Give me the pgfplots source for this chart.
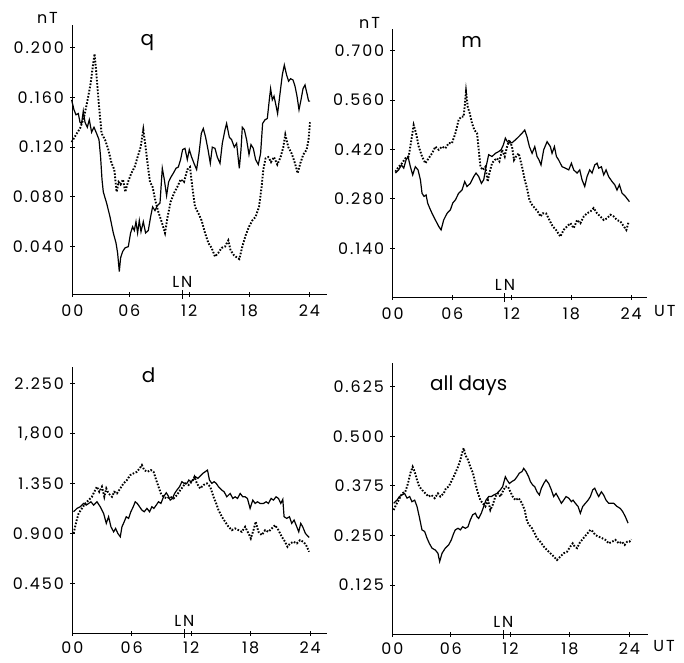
\documentclass[border=0pt]{standalone}
\usepackage{fontspec}
\setmainfont{Poppins}
\usepackage{pgfplots}
\pgfplotsset{compat=1.18}
\newcommand{\tfont}{\fontsize{16}{17}\selectfont\addfontfeature{LetterSpace=12}}
\newcommand{\hfont}{\fontsize{20}{21}\selectfont}
\pgfplotsset{
 panel/.style={
  scale only axis, anchor=south west,
  axis lines=left, axis line style={-, line width=1.1bp},
  tick align=center, major tick length=4.5bp,
  tick style={black, line width=1bp},
  xtick={0,6,12,18,24},
  xticklabels={00,06,12,18,24},
  extra x ticks={11.3},
  extra x tick labels={},
  extra x tick style={major tick length=9bp},
  tick label style={font=\tfont, inner sep=0pt},
  yticklabel style={anchor=east, xshift=-6bp},
  clip=false,
 },
 sol/.style={black, line width=1.2bp},
 dot/.style={black, line width=1.9bp, dash pattern=on 1.6bp off 1.6bp},
}
\begin{document}
\begin{tikzpicture}[x=1bp,y=1bp]
\useasboundingbox (0,0) rectangle (684,663);
% ---------------- q ----------------
\begin{axis}[panel, at={(72.3bp,368.7bp)}, width=254.4bp, height=269.3bp,
 xticklabel style={anchor=north, yshift=-8bp},
 xmin=0.3, xmax=25.74, ymin=0.0017, ymax=0.2182, xtick={0.3,6,12,18,24},
 ytick={0.04,0.08,0.12,0.16,0.2}, yticklabels={0.040,0.080,0.120,0.160,0.200}]
\addplot[sol] coordinates {(0.23,0.158)(0.47,0.150)(0.67,0.146)(0.90,0.147)(1.07,0.140)(1.23,0.139)(1.40,0.149)(1.57,0.140)(1.80,0.136)(2.00,0.142)(2.23,0.132)(2.47,0.136)(2.73,0.131)(2.97,0.126)(3.13,0.112)(3.27,0.094)(3.40,0.084)(3.73,0.075)(4.07,0.064)(4.40,0.051)(4.67,0.043)(4.83,0.035)(5.00,0.020)(5.13,0.031)(5.33,0.036)(5.57,0.039)(5.90,0.040)(6.13,0.051)(6.33,0.056)(6.50,0.053)(6.67,0.060)(6.83,0.051)(7.00,0.061)(7.17,0.052)(7.40,0.060)(7.63,0.051)(7.90,0.053)(8.13,0.064)(8.33,0.072)(8.57,0.069)(8.80,0.073)(9.07,0.075)(9.30,0.103)(9.50,0.094)(9.73,0.081)(9.93,0.092)(10.17,0.096)(10.40,0.099)(10.67,0.103)(10.90,0.104)(11.13,0.110)(11.33,0.118)(11.57,0.119)(11.80,0.110)(12.00,0.118)(12.23,0.112)(12.47,0.107)(12.73,0.102)(12.97,0.115)(13.20,0.131)(13.40,0.135)(13.63,0.128)(13.87,0.118)(14.10,0.107)(14.30,0.120)(14.57,0.119)(14.80,0.112)(15.07,0.107)(15.30,0.123)(15.57,0.134)(15.73,0.139)(16.00,0.128)(16.23,0.126)(16.50,0.120)(16.73,0.123)(17.00,0.103)(17.17,0.118)(17.30,0.136)(17.50,0.134)(17.73,0.126)(17.97,0.114)(18.17,0.122)(18.40,0.119)(18.63,0.110)(18.90,0.106)(19.13,0.115)(19.33,0.139)(19.57,0.142)(19.80,0.143)(20.00,0.158)(20.13,0.167)(20.30,0.158)(20.47,0.161)(20.63,0.155)(20.83,0.147)(21.07,0.163)(21.30,0.178)(21.50,0.186)(21.73,0.178)(21.93,0.173)(22.13,0.175)(22.37,0.174)(22.57,0.169)(22.77,0.161)(22.97,0.150)(23.17,0.158)(23.37,0.167)(23.57,0.170)(23.77,0.163)(23.93,0.157)(24.07,0.157)};
\addplot[dot] coordinates {(0.23,0.124)(0.67,0.130)(1.07,0.135)(1.47,0.144)(1.83,0.158)(2.13,0.171)(2.37,0.186)(2.53,0.195)(2.73,0.177)(2.97,0.153)(3.23,0.131)(3.57,0.126)(3.90,0.118)(4.23,0.107)(4.50,0.102)(4.73,0.084)(4.93,0.092)(5.13,0.090)(5.37,0.094)(5.60,0.084)(5.87,0.092)(6.20,0.099)(6.53,0.104)(6.83,0.112)(7.13,0.120)(7.40,0.134)(7.63,0.120)(7.87,0.104)(8.07,0.092)(8.33,0.088)(8.60,0.077)(8.90,0.068)(9.23,0.060)(9.57,0.051)(9.83,0.064)(10.13,0.076)(10.47,0.083)(10.80,0.088)(11.13,0.094)(11.47,0.092)(11.80,0.102)(12.07,0.104)(12.30,0.088)(12.57,0.072)(12.90,0.067)(13.23,0.061)(13.57,0.051)(13.90,0.043)(14.23,0.039)(14.57,0.032)(14.90,0.035)(15.23,0.039)(15.57,0.040)(15.90,0.045)(16.13,0.037)(16.47,0.033)(16.80,0.031)(17.00,0.030)(17.30,0.040)(17.63,0.049)(17.97,0.056)(18.30,0.061)(18.63,0.064)(18.97,0.072)(19.23,0.088)(19.40,0.102)(19.63,0.111)(19.90,0.112)(20.17,0.108)(20.47,0.112)(20.80,0.106)(21.13,0.112)(21.40,0.120)(21.60,0.130)(21.90,0.120)(22.23,0.115)(22.57,0.107)(22.83,0.099)(23.10,0.107)(23.40,0.114)(23.73,0.118)(23.93,0.126)(24.07,0.140)};
\node[font=\hfont, anchor=base] at (axis cs:7.8,0.202) {q};
\node[font=\tfont, anchor=center, inner sep=0pt] at (axis cs:-2.18,0.2236) {nT};
\node[font=\tfont, anchor=south, inner sep=0pt, yshift=7bp] at (axis cs:11.3,0.0017) {LN};
\end{axis}
% ---------------- m ----------------
\begin{axis}[panel, at={(392.7bp,365.3bp)}, width=254bp, height=268.4bp,
 xticklabel style={anchor=north, yshift=-8bp},
 xmin=0, xmax=25.57, ymin=0, ymax=0.7604,
 ytick={0.14,0.28,0.42,0.56,0.70}, yticklabels={0.140,0.280,0.420,0.560,0.700}]
\addplot[sol] coordinates {(0.27,0.353)(0.60,0.362)(0.87,0.376)(1.11,0.367)(1.34,0.390)(1.54,0.400)(1.78,0.371)(2.01,0.348)(2.28,0.371)(2.55,0.362)(2.79,0.334)(2.95,0.296)(3.15,0.287)(3.36,0.291)(3.52,0.268)(3.72,0.254)(3.96,0.239)(4.30,0.220)(4.63,0.202)(4.87,0.192)(5.13,0.220)(5.47,0.239)(5.81,0.249)(6.04,0.268)(6.31,0.277)(6.64,0.296)(6.98,0.305)(7.25,0.329)(7.48,0.315)(7.82,0.324)(8.15,0.343)(8.39,0.353)(8.66,0.343)(8.93,0.324)(9.16,0.334)(9.40,0.371)(9.66,0.405)(10.00,0.400)(10.34,0.409)(10.67,0.414)(10.91,0.419)(11.14,0.433)(11.34,0.452)(11.54,0.442)(11.78,0.438)(12.01,0.439)(12.35,0.447)(12.68,0.456)(13.02,0.466)(13.29,0.475)(13.52,0.456)(13.76,0.428)(14.03,0.409)(14.30,0.428)(14.53,0.400)(14.70,0.392)(14.93,0.376)(15.20,0.419)(15.54,0.442)(15.87,0.428)(16.04,0.409)(16.28,0.428)(16.48,0.400)(16.71,0.390)(17.05,0.371)(17.38,0.367)(17.72,0.362)(17.99,0.381)(18.22,0.362)(18.56,0.353)(18.83,0.362)(19.06,0.334)(19.33,0.315)(19.56,0.343)(19.83,0.362)(20.07,0.353)(20.34,0.376)(20.57,0.381)(20.74,0.367)(21.01,0.371)(21.24,0.348)(21.48,0.362)(21.74,0.343)(22.08,0.329)(22.35,0.320)(22.58,0.305)(22.82,0.320)(23.09,0.296)(23.42,0.287)(23.83,0.272)};
\addplot[dot] coordinates {(0.27,0.357)(0.60,0.371)(0.94,0.381)(1.28,0.395)(1.61,0.400)(1.88,0.447)(2.11,0.489)(2.35,0.466)(2.62,0.428)(2.95,0.400)(3.29,0.381)(3.62,0.395)(3.96,0.409)(4.30,0.428)(4.63,0.419)(4.97,0.428)(5.30,0.423)(5.64,0.438)(5.97,0.438)(6.31,0.466)(6.64,0.504)(6.91,0.513)(7.15,0.513)(7.38,0.584)(7.55,0.541)(7.75,0.523)(7.99,0.494)(8.22,0.475)(8.49,0.466)(8.66,0.419)(8.83,0.371)(9.06,0.362)(9.33,0.371)(9.56,0.329)(9.73,0.353)(10.00,0.381)(10.27,0.390)(10.50,0.395)(10.74,0.386)(11.01,0.419)(11.28,0.400)(11.51,0.428)(11.74,0.447)(12.01,0.428)(12.21,0.390)(12.42,0.400)(12.68,0.409)(13.02,0.371)(13.29,0.334)(13.52,0.310)(13.76,0.277)(14.03,0.263)(14.30,0.254)(14.60,0.244)(14.87,0.230)(15.10,0.239)(15.44,0.239)(15.77,0.220)(16.11,0.202)(16.44,0.192)(16.88,0.173)(17.21,0.192)(17.55,0.202)(17.89,0.211)(18.22,0.197)(18.56,0.220)(18.89,0.211)(19.23,0.230)(19.56,0.239)(19.90,0.244)(20.23,0.254)(20.57,0.239)(20.91,0.230)(21.24,0.220)(21.58,0.225)(21.91,0.235)(22.25,0.230)(22.58,0.220)(22.92,0.216)(23.26,0.202)(23.52,0.192)(23.76,0.216)};
\node[font=\hfont, anchor=base] at (axis cs:7.94,0.71) {m};
\node[font=\tfont, anchor=center, inner sep=0pt] at (axis cs:-2.33,0.7784) {nT};
\node[font=\tfont, anchor=south, inner sep=0pt, yshift=7bp] at (axis cs:11.3,0) {LN};
\node[font=\tfont, anchor=center, inner sep=0pt] at (axis cs:27.4,-0.0377) {UT};
\end{axis}
% ---------------- d ----------------
\begin{axis}[panel, at={(72.3bp,29.7bp)}, width=254.4bp, height=266.6bp,
 xticklabel style={anchor=north, yshift=-5.6bp},
 xmin=0, xmax=25.67, ymin=0, ymax=2.406,
 ytick={0.45,0.9,1.35,1.8,2.25}, yticklabels={0.450,0.900,1.350,{1,800},2.250}]
\addplot[sol] coordinates {(0.13,1.097)(0.47,1.127)(0.81,1.142)(1.14,1.172)(1.41,1.157)(1.65,1.172)(1.88,1.187)(2.15,1.157)(2.49,1.187)(2.82,1.142)(3.16,1.082)(3.43,0.992)(3.66,1.052)(3.90,0.961)(4.17,0.916)(4.37,0.946)(4.60,0.901)(4.84,0.871)(5.01,0.961)(5.24,1.007)(5.44,1.052)(5.68,1.037)(5.91,1.097)(6.15,1.142)(6.35,1.187)(6.55,1.172)(6.79,1.142)(7.02,1.112)(7.26,1.097)(7.53,1.127)(7.80,1.097)(8.03,1.142)(8.23,1.127)(8.47,1.157)(8.70,1.187)(8.94,1.172)(9.21,1.232)(9.48,1.268)(9.64,1.247)(9.88,1.202)(10.11,1.217)(10.32,1.262)(10.55,1.292)(10.82,1.323)(11.06,1.368)(11.29,1.353)(11.56,1.353)(11.76,1.383)(11.96,1.368)(12.20,1.383)(12.43,1.413)(12.67,1.398)(12.90,1.419)(13.17,1.443)(13.41,1.458)(13.64,1.473)(13.84,1.383)(14.08,1.353)(14.31,1.368)(14.52,1.353)(14.75,1.323)(15.09,1.292)(15.32,1.277)(15.59,1.232)(15.93,1.262)(16.20,1.217)(16.43,1.232)(16.67,1.217)(16.94,1.262)(17.20,1.232)(17.44,1.232)(17.67,1.217)(17.94,1.127)(18.21,1.202)(18.45,1.172)(18.68,1.187)(18.95,1.172)(19.29,1.172)(19.56,1.187)(19.79,1.172)(20.06,1.217)(20.30,1.202)(20.56,1.232)(20.80,1.217)(21.04,1.172)(21.24,1.208)(21.37,1.052)(21.64,1.037)(21.91,1.052)(22.14,0.992)(22.38,1.022)(22.65,0.961)(22.85,0.916)(23.05,0.992)(23.25,0.961)(23.52,0.901)(23.90,0.865)};
\addplot[dot] coordinates {(0.13,0.901)(0.40,1.007)(0.64,1.082)(0.97,1.127)(1.31,1.172)(1.65,1.202)(1.98,1.232)(2.22,1.277)(2.49,1.323)(2.72,1.277)(2.99,1.323)(3.23,1.232)(3.43,1.307)(3.66,1.262)(4.00,1.232)(4.23,1.277)(4.50,1.262)(4.84,1.307)(5.17,1.353)(5.51,1.383)(5.85,1.428)(6.18,1.443)(6.52,1.458)(6.79,1.488)(7.02,1.518)(7.26,1.473)(7.59,1.458)(7.93,1.473)(8.20,1.458)(8.47,1.383)(8.70,1.323)(8.94,1.262)(9.21,1.232)(9.54,1.217)(9.88,1.232)(10.22,1.217)(10.55,1.247)(10.89,1.292)(11.16,1.323)(11.39,1.353)(11.73,1.338)(12.06,1.368)(12.33,1.413)(12.57,1.353)(12.90,1.307)(13.24,1.338)(13.58,1.353)(13.91,1.323)(14.25,1.232)(14.52,1.172)(14.75,1.112)(15.09,1.052)(15.42,1.007)(15.76,0.961)(16.10,0.931)(16.43,0.946)(16.77,0.931)(17.10,0.916)(17.44,0.961)(17.78,0.901)(18.01,0.856)(18.28,0.931)(18.51,1.007)(18.78,0.916)(19.12,0.886)(19.46,0.931)(19.79,0.916)(20.13,0.946)(20.46,0.976)(20.80,0.931)(21.14,0.871)(21.47,0.826)(21.71,0.781)(21.98,0.811)(22.31,0.826)(22.65,0.811)(22.98,0.841)(23.32,0.826)(23.59,0.796)(23.89,0.736)};
\node[font=\hfont, anchor=base] at (axis cs:7.69,2.262) {d};
\node[font=\tfont, anchor=south, inner sep=0pt, yshift=7bp] at (axis cs:11.3,0) {LN};
\end{axis}
% ---------------- all days ----------------
\begin{axis}[panel, at={(392.3bp,28.4bp)}, width=256bp, height=271.9bp,
 xticklabel style={anchor=north, yshift=-5.6bp},
 xmin=0.1, xmax=25.9, ymin=0, ymax=0.6855, xtick={0.1,6,12,18,24},
 ytick={0.125,0.25,0.375,0.5,0.625}, yticklabels={0.125,0.250,0.375,0.500,0.625}]
\addplot[sol] coordinates {(0.24,0.331)(0.57,0.339)(0.81,0.348)(1.08,0.352)(1.34,0.356)(1.58,0.344)(1.85,0.348)(2.08,0.335)(2.35,0.339)(2.59,0.323)(2.82,0.297)(3.09,0.264)(3.36,0.260)(3.60,0.243)(3.83,0.230)(4.10,0.218)(4.44,0.213)(4.70,0.205)(4.87,0.184)(5.11,0.205)(5.44,0.218)(5.78,0.226)(6.05,0.239)(6.28,0.255)(6.45,0.264)(6.72,0.268)(6.96,0.264)(7.19,0.272)(7.46,0.268)(7.73,0.272)(7.96,0.289)(8.20,0.302)(8.47,0.306)(8.64,0.297)(8.80,0.293)(9.07,0.306)(9.31,0.323)(9.54,0.339)(9.81,0.348)(10.08,0.348)(10.32,0.352)(10.65,0.356)(10.99,0.365)(11.22,0.373)(11.49,0.398)(11.66,0.390)(11.90,0.381)(12.16,0.386)(12.43,0.390)(12.67,0.398)(12.90,0.407)(13.17,0.411)(13.34,0.419)(13.58,0.411)(13.84,0.398)(14.01,0.386)(14.25,0.377)(14.45,0.373)(14.68,0.360)(14.92,0.352)(15.12,0.369)(15.36,0.381)(15.59,0.390)(15.86,0.381)(16.13,0.365)(16.36,0.348)(16.60,0.356)(16.87,0.344)(17.14,0.331)(17.37,0.339)(17.61,0.348)(17.88,0.344)(18.15,0.335)(18.31,0.339)(18.55,0.331)(18.82,0.323)(19.05,0.306)(19.29,0.323)(19.56,0.331)(19.83,0.339)(20.06,0.348)(20.30,0.365)(20.50,0.369)(20.73,0.356)(20.90,0.348)(21.17,0.360)(21.40,0.352)(21.64,0.339)(21.91,0.331)(22.18,0.331)(22.41,0.331)(22.75,0.323)(23.08,0.318)(23.32,0.310)(23.59,0.297)(23.86,0.281)};
\addplot[dot] coordinates {(0.24,0.314)(0.47,0.327)(0.74,0.339)(1.08,0.356)(1.41,0.360)(1.68,0.381)(1.92,0.407)(2.15,0.423)(2.35,0.411)(2.59,0.390)(2.82,0.373)(3.09,0.365)(3.43,0.356)(3.76,0.348)(4.03,0.352)(4.37,0.344)(4.70,0.356)(4.94,0.348)(5.28,0.356)(5.51,0.369)(5.78,0.373)(6.12,0.390)(6.45,0.407)(6.72,0.423)(6.96,0.440)(7.12,0.457)(7.29,0.470)(7.46,0.453)(7.73,0.440)(7.96,0.423)(8.23,0.407)(8.47,0.381)(8.74,0.356)(8.97,0.339)(9.21,0.331)(9.48,0.323)(9.74,0.339)(9.98,0.314)(10.22,0.327)(10.48,0.348)(10.75,0.356)(10.99,0.348)(11.22,0.360)(11.49,0.373)(11.76,0.373)(12.00,0.360)(12.23,0.348)(12.50,0.339)(12.84,0.344)(13.17,0.331)(13.44,0.314)(13.68,0.285)(13.91,0.276)(14.18,0.268)(14.45,0.255)(14.68,0.243)(15.02,0.234)(15.36,0.222)(15.69,0.213)(16.03,0.205)(16.36,0.197)(16.70,0.188)(17.04,0.197)(17.37,0.205)(17.71,0.209)(18.04,0.222)(18.28,0.230)(18.48,0.222)(18.72,0.218)(18.95,0.230)(19.22,0.239)(19.49,0.247)(19.76,0.255)(20.06,0.264)(20.30,0.260)(20.56,0.251)(20.90,0.247)(21.24,0.243)(21.57,0.239)(21.91,0.230)(22.24,0.234)(22.58,0.239)(22.92,0.230)(23.25,0.234)(23.52,0.226)(23.76,0.234)(23.99,0.234)(24.19,0.240)};
\node[font=\hfont, anchor=base west] at (axis cs:3.56,0.615) {all days};
\node[font=\tfont, anchor=south, inner sep=0pt, yshift=7bp] at (axis cs:11.3,0) {LN};
\node[font=\tfont, anchor=center, inner sep=0pt] at (axis cs:27.49,-0.0287) {UT};
\end{axis}
\end{tikzpicture}
\end{document}
